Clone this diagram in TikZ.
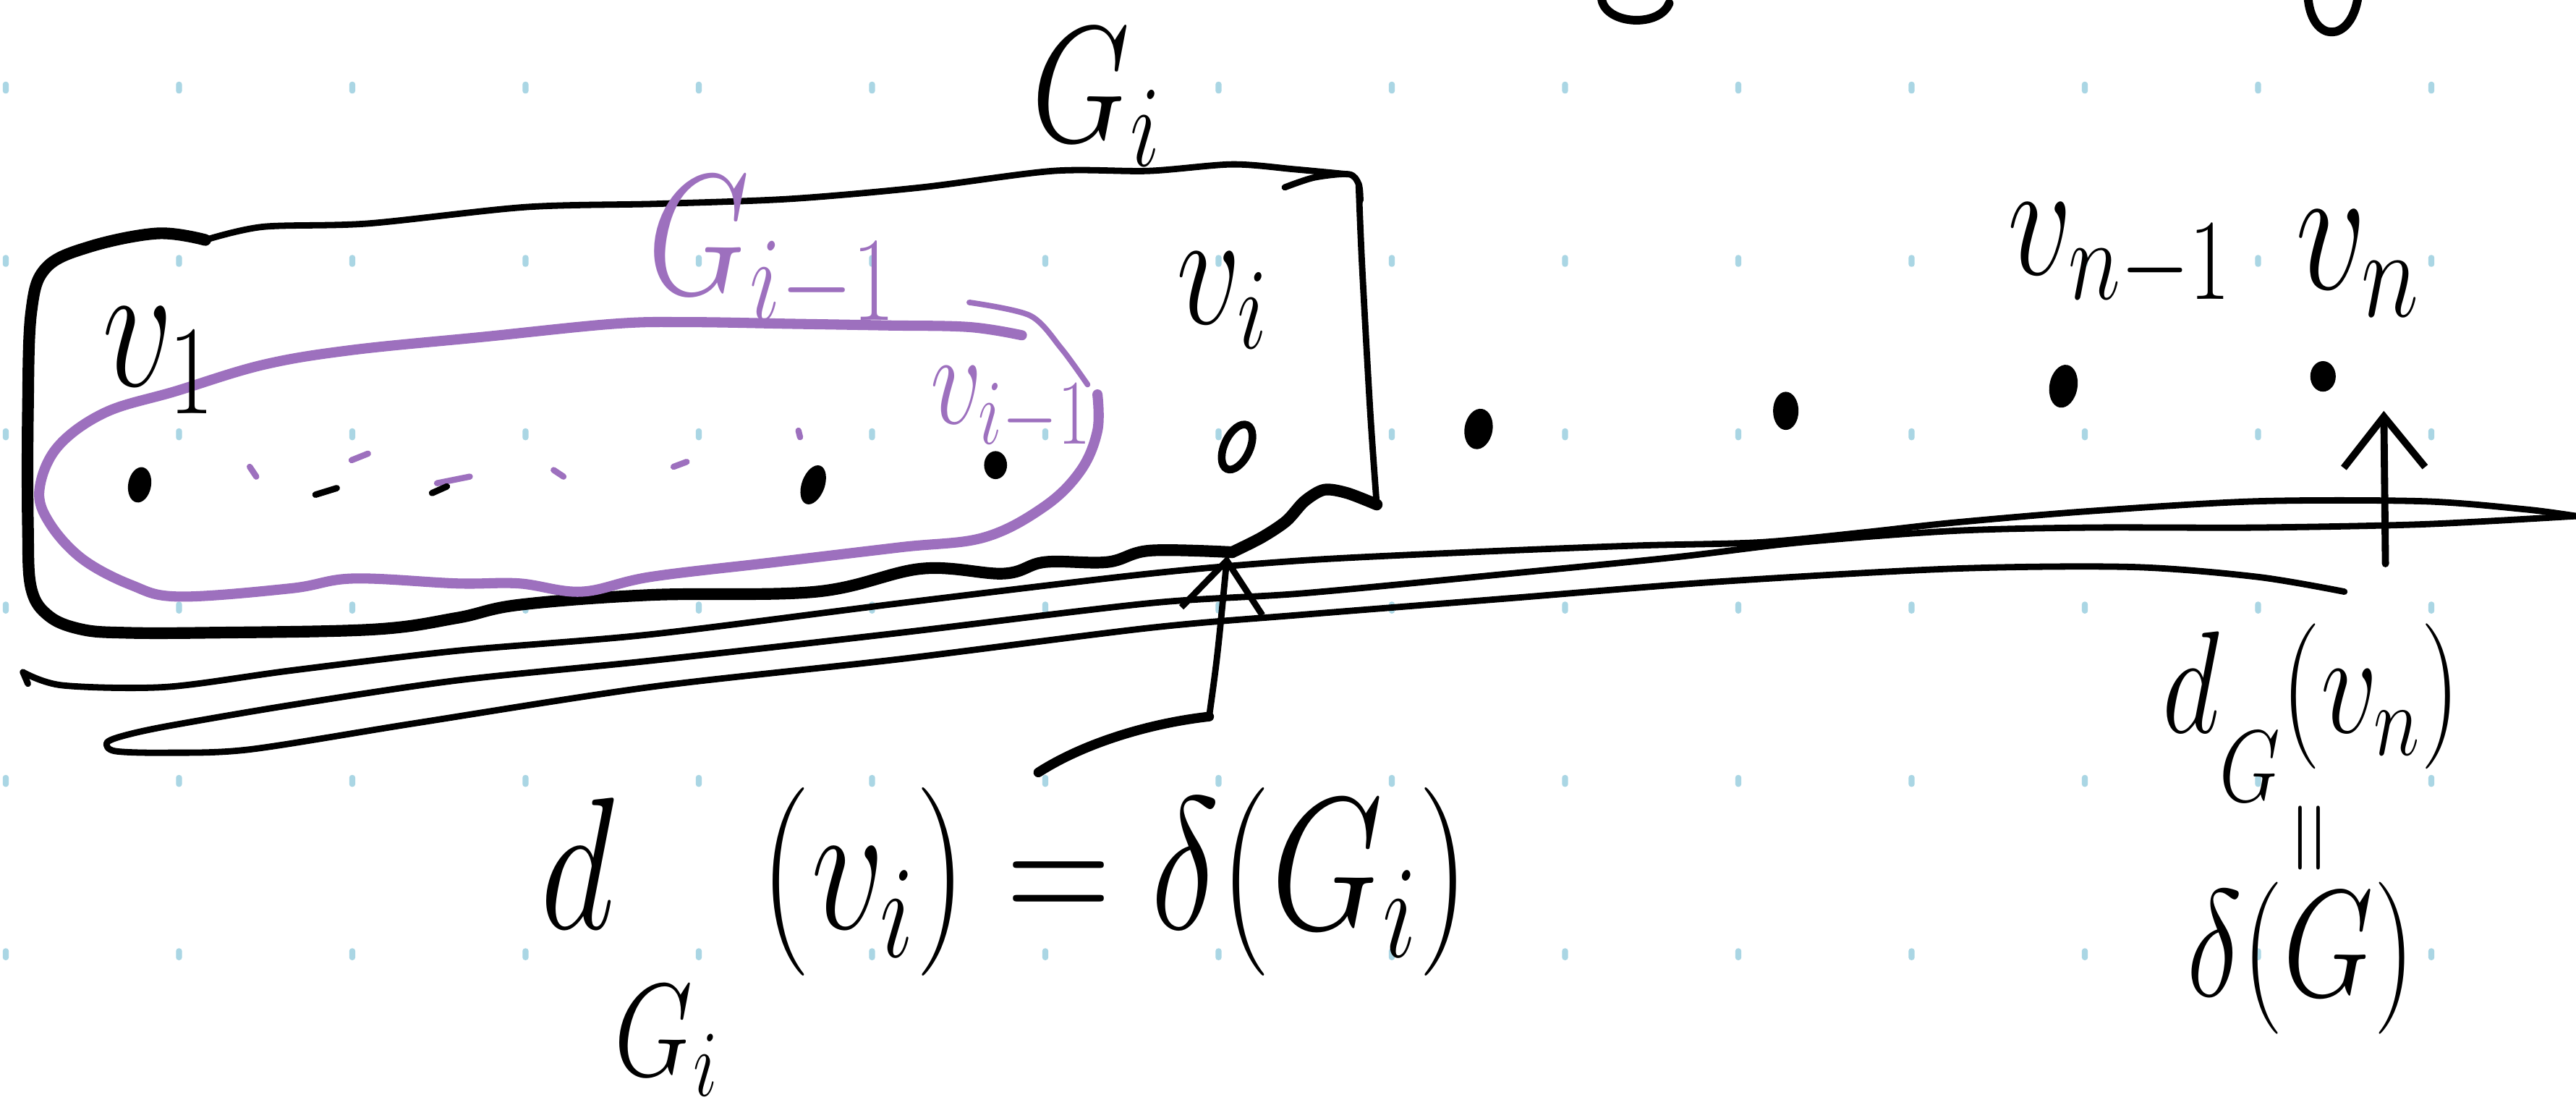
\RequirePackage{fix-cm}
\documentclass[tikz,border=0pt]{standalone}
\usepackage{graphicx}
\usetikzlibrary{arrows.meta,shapes.geometric}

\definecolor{penpurple}{RGB}{157,112,190}
\definecolor{gridblue}{RGB}{170,214,228}

\newcommand{\tallmath}[1]{\scalebox{1}[1.3]{$#1$}}

\tikzset{
  pen/.style={line width=2.5pt, line cap=round, line join=round},
  heavypen/.style={line width=4.6pt, line cap=round, line join=round},
  purplepen/.style={line width=4pt, draw=penpurple, line cap=round, line join=round},
  vdot/.style={ellipse, fill=black, inner sep=0pt, minimum width=9pt, minimum height=14pt},
  vring/.style={ellipse, draw=black, line width=3pt, inner sep=0pt, minimum width=10pt, minimum height=19pt},
  lbl/.style={inner sep=0pt, anchor=base west, font=\fontsize{#1}{#1}\selectfont},
  handtip/.style={-{Straight Barb[length=20pt,width=32pt]}},
}

\begin{document}
\begin{tikzpicture}[x=0.02271cm, y=-0.02271cm]
  \fill[white] (0,0) rectangle (1568,677);
  \useasboundingbox (0,0) rectangle (1568,677);

  % dotted paper
  \foreach \i in {0,...,14}
    \foreach \j in {0,...,5}
      \fill[gridblue, rounded corners=1pt] ({3.5+105.46*\i-1.8},{53.3+105.46*\j-3.6}) rectangle +(3.6,7.2);

  % strokes cut off at the top
  \draw[pen, line width=3.4pt] (975,0) .. controls (978,15) and (1010,17) .. (1016,2);
  \draw[pen, line width=3.4pt] (1405,0) .. controls (1408,26) and (1430,26) .. (1435,0);

  % G_i box
  \draw[heavypen] plot[smooth, tension=0.6] coordinates {(125,146) (96,142) (55,150) (28,163) (19,190) (17,250) (17,320) (19,358) (30,375) (50,383) (76,385) (126,385) (227,383) (278,376) (316,368) (396,362) (497,360) (561,346) (611,349) (636,342) (674,342) (700,335) (750,336)};
  \draw[heavypen] plot[smooth] coordinates {(750,336) (768,327) (783,317) (794,305) (806,298) (820,300) (838,307)};
  \draw[pen] plot[smooth] coordinates {(125,146) (160,138) (224,136) (320,126) (400,124) (481,121) (561,114) (641,104) (699,104) (750,100) (788,103) (820,106)};
  \draw[pen] plot[smooth] coordinates {(782,114) (800,108) (821,106) (827,112) (828,122)};
  \draw[pen] plot[smooth] coordinates {(827,112) (829,160) (834,250) (838,307)};

  % G_{i-1} loop
  \draw[purplepen] plot[smooth, tension=0.6] coordinates {(622,204) (590,199) (540,198) (481,197) (420,196) (374,197) (294,205) (214,213) (160,222) (107,238) (64,251) (35,272) (24,298) (30,318) (50,340) (80,356) (109,363) (177,358) (215,352) (278,355) (316,355) (354,360) (396,351) (472,342) (548,333) (599,327) (636,308) (658,286) (668,262) (668,240)};
  \draw[penpurple, line width=2.2pt, line cap=round] plot[smooth] coordinates {(590,184) (627,192) (646,212) (662,234)};

  % the dots in between
  \foreach \a/\b/\c/\d in {152/284/156/290, 214/280/224/276, 266/294/286/290, 337/286/343/290, 410/284/418/281, 486/262/487/266}
    \draw[penpurple, line width=2.4pt, line cap=round] (\a,\b) -- (\c,\d);
  \foreach \a/\b/\c/\d in {192/301/205/297, 263/300/272/296}
    \draw[pen] (\a,\b) -- (\c,\d);

  % vertices
  \node[vdot, rotate=-10] (p1) at (85,295) {};
  \node[vdot, rotate=-20, minimum height=16pt] (pa) at (495,295) {};
  \node[vdot, minimum height=11pt] (pb) at (606,283) {};
  \node[vring, rotate=-25] (pi) at (753,272) {};
  \node[vdot, rotate=-10, minimum width=11pt, minimum height=16pt] (pc) at (900,261) {};
  \node[vdot, minimum width=10pt, minimum height=15pt] (pd) at (1087,250) {};
  \node[vdot, rotate=-10, minimum width=11pt, minimum height=17pt] (pm) at (1256,235) {};
  \node[vdot, minimum width=10pt, minimum height=12pt] (pn) at (1414,229) {};

  % long strokes under the box
  \draw[pen] (17,416) -- (14,409);
  \draw[pen] plot[smooth] coordinates {(14,409) (38,417) (101,418) (177,408) (278,396) (396,386) (548,367) (700,349) (793,341) (894,336) (995,332) (1071,330) (1134,324) (1189,318) (1272,311) (1374,305) (1475,305) (1538,310) (1568,314)};
  \draw[pen] plot[smooth] coordinates {(1568,314) (1475,319) (1374,321) (1272,321) (1189,323) (1096,330) (1020,339) (919,349) (793,361) (700,367) (548,385) (396,402) (278,414) (177,429) (101,442) (74,448) (65,452) (70,457) (101,458) (152,456) (253,440) (396,418) (548,401) (700,382) (793,374) (919,364) (1045,354) (1189,346) (1298,345) (1374,351) (1427,360)};

  % arrows
  \coordinate (tailA) at (632,470);
  \coordinate (kneeA) at (736,436);
  \coordinate (tipA) at (747,338);
  \draw[heavypen, line width=3.8pt] (tailA) .. controls (660,452) and (700,440) .. (kneeA);
  \draw[pen, handtip] (kneeA) .. controls (741,400) .. (tipA);
  \coordinate (tailB) at (1452,343);
  \coordinate (tipB) at (1451,250);
  \draw[pen, line width=2.8pt, handtip] (tailB) -- (tipB);

  % labels
  \node[lbl=50] (Gi) at (628,86) {\tallmath{G_i}};
  \node[lbl=52, text=penpurple] (Gim) at (394,179) {\tallmath{G_{i-1}}};
  \node[lbl=55] (v1lbl) at (62,235) {\tallmath{v_1}};
  \node[lbl=50] (vilbl) at (716,197) {\tallmath{v_i}};
  \node[lbl=40, text=penpurple] (vimlbl) at (566,258) {\tallmath{v_{i-1}}};
  \node[lbl=50] (vnmlbl) at (1222,167) {\tallmath{v_{n-1}}};
  \node[lbl=55] (vnlbl) at (1397,176) {\tallmath{v_n}};
  \node[lbl=57] (degi) at (329,565) {\tallmath{d_{\raisebox{-36pt}{$\scriptstyle G_i$}}\;(v_i)=\delta(G_i)}};
  \node[lbl=44] (degn) at (1316,446) {\tallmath{d_{\raisebox{-14pt}{$\scriptstyle G$}}(v_n)}};
  \node[inner sep=0pt, rotate=90, font=\fontsize{40}{40}\selectfont] (eqn) at (1410,510) {$=$};
  \node[lbl=46] (mindeg) at (1331,606) {\tallmath{\delta(G)}};
\end{tikzpicture}
\end{document}
